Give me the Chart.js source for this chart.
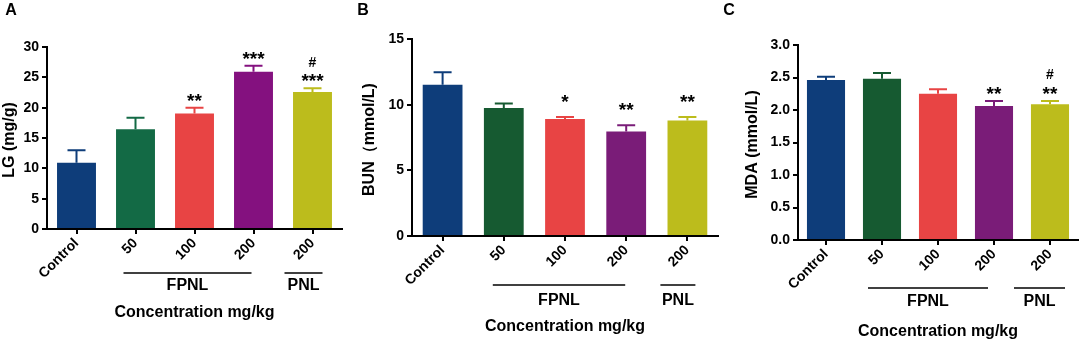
<!DOCTYPE html>
<html>
<head>
<meta charset="utf-8">
<script src="https://cdn.jsdelivr.net/npm/chart.js@4.4.1/dist/chart.umd.min.js"></script>
<style>
    html, body { margin: 0; padding: 0; background: #fff; }
    #wrap { position: relative; width: 1084px; height: 339px; overflow: hidden; }
    #wrap canvas { position: absolute; top: 0; }
</style>
</head>
<body>
<div id="wrap">
    <canvas id="chartLG" width="355" height="339" style="left:0px"></canvas>
    <canvas id="chartBUN" width="372" height="339" style="left:350px"></canvas>
    <canvas id="chartMDA" width="366" height="339" style="left:718px"></canvas>
</div>
<script>
// categories shared by all three panels
const categories = ['Control', '50', '100', '200', '200'];
const groupNames = ['FPNL', 'PNL'];
const groupSpans = [[1, 3], [4, 4]];

// A: LG (mg/g)
const lgMeans = [10.9, 16.45, 19.05, 25.9, 22.6];
const lgSem = [2.1, 1.9, 0.95, 1.0, 0.6];
const lgStars = ['', '', '**', '***', '***'];
const lgHash = ['', '', '', '', '#'];
const lgTicks = { max: 30, step: 5 };

// B: BUN (mmol/L)
const bunMeans = [11.52, 9.75, 8.9, 7.95, 8.8];
const bunSem = [0.95, 0.33, 0.16, 0.48, 0.26];
const bunStars = ['', '', '*', '**', '**'];
const bunHash = ['', '', '', '', ''];
const bunTicks = { max: 15, step: 5 };

// C: MDA (mmol/L)
const mdaMeans = [2.46, 2.48, 2.25, 2.06, 2.09];
const mdaSem = [0.05, 0.09, 0.07, 0.08, 0.05];
const mdaStars = ['', '', '', '**', '**'];
const mdaHash = ['', '', '', '', '#'];
const mdaTicks = { max: 3, step: 0.5 };

const FONT = "'Liberation Sans', Arial, sans-serif";

const extras = {
    id: 'extras',
    afterDatasetsDraw(chart, args, o) {
        const ctx = chart.ctx;
        const y = chart.scales.y;
        const meta = chart.getDatasetMeta(0);
        ctx.save();
        ctx.lineWidth = 2;
        meta.data.forEach(function (bar, i) {
            const top = y.getPixelForValue(o.means[i] + o.sem[i]);
            ctx.strokeStyle = o.colors[i];
            ctx.beginPath();
            ctx.moveTo(bar.x, bar.y);
            ctx.lineTo(bar.x, top);
            ctx.moveTo(bar.x - 9, top);
            ctx.lineTo(bar.x + 9, top);
            ctx.stroke();

            ctx.fillStyle = '#000';
            ctx.textAlign = 'center';
            ctx.textBaseline = 'alphabetic';
            const starY = top - o.starGap;
            if (o.stars[i]) {
                ctx.font = 'bold 19px ' + FONT;
                ctx.fillText(o.stars[i], bar.x, starY + 11);
            }
            if (o.hash[i]) {
                ctx.font = 'bold 14px ' + FONT;
                ctx.fillText(o.hash[i], bar.x, starY - o.hashGap + 5);
            }
        });
        ctx.restore();
    },
    afterDraw(chart, args, o) {
        const ctx = chart.ctx;
        const x = chart.scales.x;
        const area = chart.chartArea;
        ctx.save();
        ctx.fillStyle = '#000';
        ctx.strokeStyle = '#000';
        ctx.font = 'bold 16px ' + FONT;
        ctx.textAlign = 'center';
        ctx.textBaseline = 'middle';

        // group bars under the tick labels
        groupSpans.forEach(function (span, g) {
            const x1 = x.getPixelForValue(span[0]) + o.groupLine[g][0];
            const x2 = x.getPixelForValue(span[1]) + o.groupLine[g][1];
            const ly = area.bottom + o.lineY;
            ctx.lineWidth = 1.5;
            ctx.beginPath();
            ctx.moveTo(x1, ly);
            ctx.lineTo(x2, ly);
            ctx.stroke();
            ctx.fillText(groupNames[g], (x1 + x2) / 2, area.bottom + o.groupY);
        });

        ctx.fillText('Concentration mg/kg', (area.left + area.right) / 2, area.bottom + o.titleY);

        ctx.save();
        ctx.translate(area.left - o.yTitleX, (area.top + area.bottom) / 2 + 2);
        ctx.rotate(-Math.PI / 2);
        ctx.fillText(o.yTitle, 0, 0);
        ctx.restore();

        ctx.fillText(o.letter, o.letterX, 11);
        ctx.restore();
    }
};

function makePanel(id, d) {
    const tickFont = { family: FONT, size: 14, weight: 'bold' };
    return new Chart(document.getElementById(id), {
        type: 'bar',
        data: {
            labels: categories,
            datasets: [{
                data: d.means,
                backgroundColor: d.colors,
                borderWidth: 0,
                barPercentage: d.barPct,
                categoryPercentage: 1,
            }],
        },
        options: {
            responsive: false,
            animation: false,
            layout: { padding: { top: d.top, right: d.right, left: 0, bottom: 0 } },
            plugins: {
                legend: { display: false },
                tooltip: { enabled: false },
                extras: d,
            },
            scales: {
                x: {
                    grid: { drawOnChartArea: false, offset: false, color: '#000', lineWidth: 2, tickLength: 5 },
                    border: { color: '#000', width: 2 },
                    ticks: { color: '#000', font: tickFont, minRotation: 45, maxRotation: 45, padding: 1 },
                    afterFit: function (s) { s.height = d.xh; },
                },
                y: {
                    min: 0,
                    max: d.ticks.max,
                    ticks: {
                        stepSize: d.ticks.step,
                        color: '#000',
                        font: tickFont,
                        padding: 3,
                        callback: function (v) { return d.decimals ? v.toFixed(1) : v; },
                    },
                    grid: { drawOnChartArea: false, color: '#000', lineWidth: 2, tickLength: 5 },
                    border: { color: '#000', width: 2 },
                    afterFit: function (s) { s.width = d.left; },
                },
            },
        },
        plugins: [extras],
    });
}

makePanel('chartLG', {
    means: lgMeans, sem: lgSem, stars: lgStars, hash: lgHash, ticks: lgTicks,
    colors: ['#0e3d7a', '#136a45', '#e84444', '#84117f', '#bcbc1c'],
    barPct: 0.66, top: 47, right: 13, left: 47, xh: 110,
    starGap: 12, hashGap: 14,
    groupLine: [[-12, -2], [-28, 10]], lineY: 44, groupY: 57, titleY: 84,
    yTitle: 'LG (mg/g)', yTitleX: 37, letter: 'A', letterX: 11,
});

makePanel('chartBUN', {
    means: bunMeans, sem: bunSem, stars: bunStars, hash: bunHash, ticks: bunTicks,
    colors: ['#0e3d7a', '#165a31', '#e84444', '#7a1c78', '#bcbc1c'],
    barPct: 0.65, top: 39, right: 4, left: 62, xh: 103,
    starGap: 20, hashGap: 14,
    groupLine: [[-11, -1], [-27, 8]], lineY: 49, groupY: 65, titleY: 91,
    yTitle: 'BUN（mmol/L)', yTitleX: 42, letter: 'B', letterX: 13,
});

makePanel('chartMDA', {
    means: mdaMeans, sem: mdaSem, stars: mdaStars, hash: mdaHash, ticks: mdaTicks, decimals: true,
    colors: ['#0e3d7a', '#165a31', '#e84444', '#7a1c78', '#bcbc1c'],
    barPct: 0.68, top: 45, right: 6, left: 80, xh: 99,
    starGap: 12, hashGap: 15,
    groupLine: [[-14, -6], [-36, 15]], lineY: 48, groupY: 62, titleY: 92,
    yTitle: 'MDA (mmol/L)', yTitleX: 45, letter: 'C', letterX: 11,
});
</script>
</body>
</html>
